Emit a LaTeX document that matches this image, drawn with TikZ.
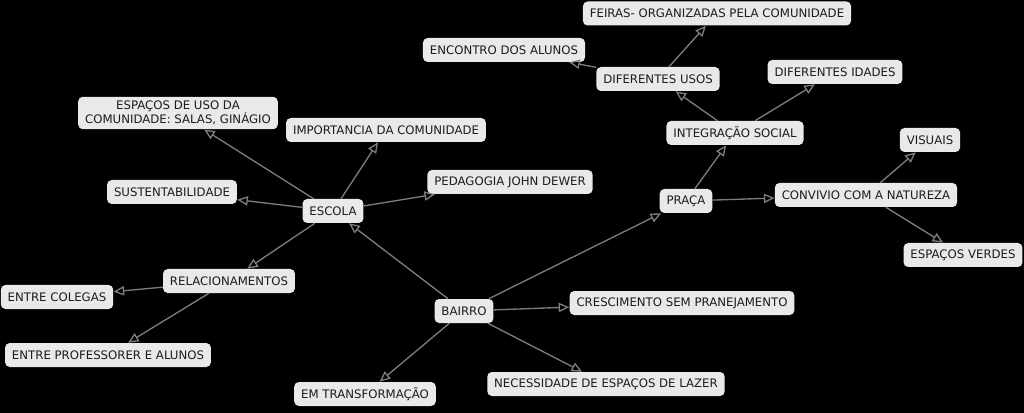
\documentclass[tikz,border=0pt]{standalone}
\usepackage{fontspec}
\setmainfont{DejaVu Sans}
\usetikzlibrary{arrows.meta}
\definecolor{boxgray}{HTML}{EAE8E8}
\definecolor{linegray}{HTML}{7C7C7C}
\definecolor{textgray}{HTML}{1C1C1C}
\begin{document}
\begin{tikzpicture}[x=0.75pt,y=-0.75pt]
        \fill[black] (0,0) rectangle (1024,413);
        \useasboundingbox (0,0) rectangle (1024,413);
        \begin{scope}[every node/.style={fill=boxgray,text=textgray,rounded corners=3.5pt,
                      inner xsep=5.2pt,inner ysep=3pt,minimum height=18pt,align=center,
                      font=\fontsize{8.8}{10.8}\selectfont}]
            \node (esp) at (178,113) {ESPAÇOS DE USO DA\\COMUNIDADE: SALAS, GINÁGIO};
            \node (imp) at (386,130) {IMPORTANCIA DA COMUNIDADE};
            \node (sust) at (172,192) {SUSTENTABILIDADE};
            \node (escola) at (333,211) {ESCOLA};
            \node (ped) at (510,182) {PEDAGOGIA JOHN DEWER};
            \node (rel) at (229,281) {RELACIONAMENTOS};
            \node (col) at (57,297) {ENTRE COLEGAS};
            \node (prof) at (108,355) {ENTRE PROFESSORER E ALUNOS};
            \node (bairro) at (464,311) {BAIRRO};
            \node (transf) at (365,394) {EM TRANSFORMAÇÃO};
            \node (cresc) at (682,303) {CRESCIMENTO SEM PRANEJAMENTO};
            \node (lazer) at (606,384) {NECESSIDADE DE ESPAÇOS DE LAZER};
            \node (praca) at (686,201) {PRAÇA};
            \node (conv) at (866,195) {CONVIVIO COM A NATUREZA};
            \node (vis) at (930,140) {VISUAIS};
            \node (verdes) at (963,255) {ESPAÇOS VERDES};
            \node (integ) at (735,133) {INTEGRAÇÃO SOCIAL};
            \node (idades) at (835,72) {DIFERENTES IDADES};
            \node (usos) at (658,79) {DIFERENTES USOS};
            \node (encontro) at (504,50) {ENCONTRO DOS ALUNOS};
            \node (feiras) at (717,13.5) {FEIRAS- ORGANIZADAS PELA COMUNIDADE};
        \end{scope}
        \begin{scope}[every edge/.style={draw=linegray,line width=1pt,
                      -{Triangle[open,length=8pt,width=7pt]}}]
            \path (bairro) edge (escola)
                  (bairro) edge (praca)
                  (bairro) edge (cresc)
                  (bairro) edge (lazer)
                  (bairro) edge (transf)
                  (escola) edge (esp)
                  (escola) edge (imp)
                  (escola) edge (sust)
                  (escola) edge (ped)
                  (escola) edge (rel)
                  (rel) edge (col)
                  (rel) edge (prof)
                  (praca) edge (integ)
                  (praca) edge (conv)
                  (conv) edge (vis)
                  (conv) edge (verdes)
                  (integ) edge (idades)
                  (integ) edge (usos)
                  (usos) edge (encontro)
                  (usos) edge (feiras);
        \end{scope}
    \end{tikzpicture}
\end{document}
